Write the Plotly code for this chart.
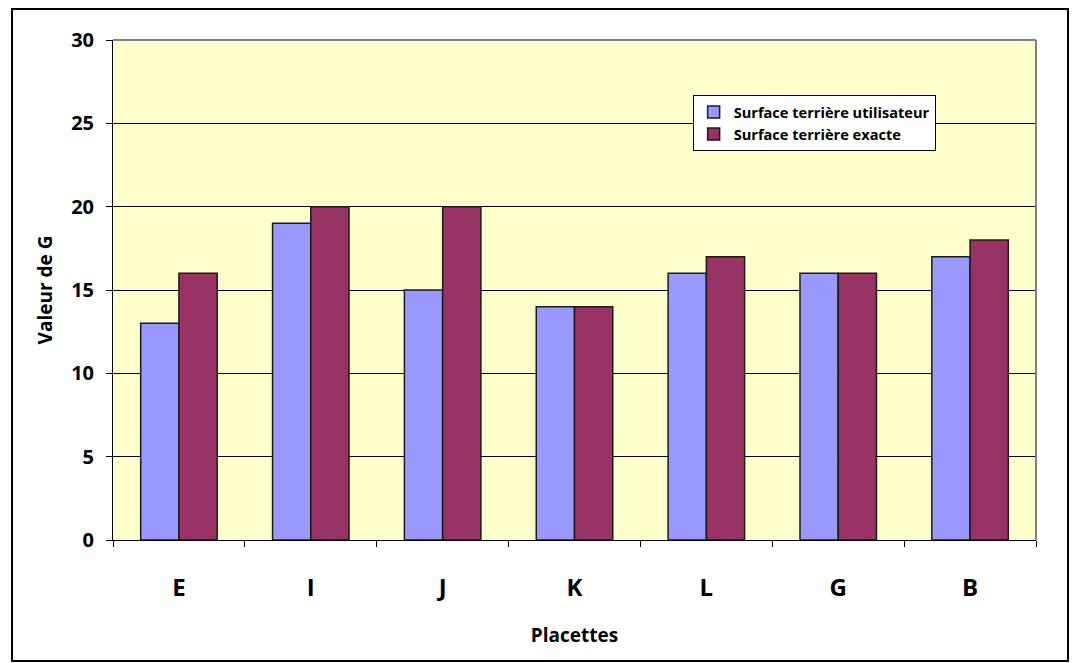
import plotly.graph_objects as go

placettes = ["E", "I", "J", "K", "L", "G", "B"]
g_utilisateur = [13, 19, 15, 14, 16, 16, 17]
g_exacte = [16, 20, 20, 14, 17, 16, 18]

FONT = "Open Sans"

fig = go.Figure()
fig.add_trace(go.Bar(
    x=placettes, y=g_utilisateur, name="Surface terrière utilisateur",
    marker=dict(color="#9999FF", line=dict(color="#1a1a1a", width=1.5)),
))
fig.add_trace(go.Bar(
    x=placettes, y=g_exacte, name="Surface terrière exacte",
    marker=dict(color="#993366", line=dict(color="#1a1a1a", width=1.5)),
))

# outer frame around the whole chart
fig.add_shape(type="rect", xref="paper", yref="paper",
              x0=-0.1094, x1=1.0347, y0=-0.242, y1=1.062,
              line=dict(color="black", width=2), layer="below")
# grey edge on the top and right of the plot area
fig.add_shape(type="line", xref="paper", yref="paper", x0=0, x1=1, y0=1, y1=1,
              line=dict(color="#808080", width=2))
fig.add_shape(type="line", xref="paper", yref="paper", x0=1, x1=1, y0=0, y1=1,
              line=dict(color="#808080", width=2))

fig.update_layout(
    width=1075, height=663,
    margin=dict(l=113, r=39, t=40, b=123),
    paper_bgcolor="white",
    plot_bgcolor="#FFFFCC",
    barmode="group",
    bargap=0.42,
    bargroupgap=0,
    font=dict(family=FONT, color="black"),
    showlegend=True,
    legend=dict(
        x=0.628, y=0.89, xanchor="left", yanchor="top",
        bgcolor="white", bordercolor="black", borderwidth=1,
        font=dict(family=FONT, size=14.6, color="black", weight="bold"),
        tracegroupgap=0, itemwidth=30,
    ),
    xaxis=dict(
        type="category",
        showgrid=False,
        showline=True, linecolor="black", linewidth=1,
        ticks="outside", tickson="boundaries", ticklen=6, tickcolor="black",
        tickfont=dict(family=FONT, size=24, color="black", weight="bold"),
        ticklabelstandoff=26,
        title=dict(text="Placettes", standoff=26,
                   font=dict(family=FONT, size=19, color="black", weight="bold")),
    ),
    yaxis=dict(
        range=[0, 30], dtick=5,
        showgrid=True, gridcolor="black", gridwidth=1,
        showline=True, linecolor="black", linewidth=1,
        ticks="outside", ticklen=6, tickcolor="black",
        tickfont=dict(family=FONT, size=20, color="black", weight="bold"),
        ticklabelstandoff=8,
        zeroline=False,
        title=dict(text="Valeur de G", standoff=13,
                   font=dict(family=FONT, size=19, color="black", weight="bold")),
    ),
)

fig.write_html("out.html")
